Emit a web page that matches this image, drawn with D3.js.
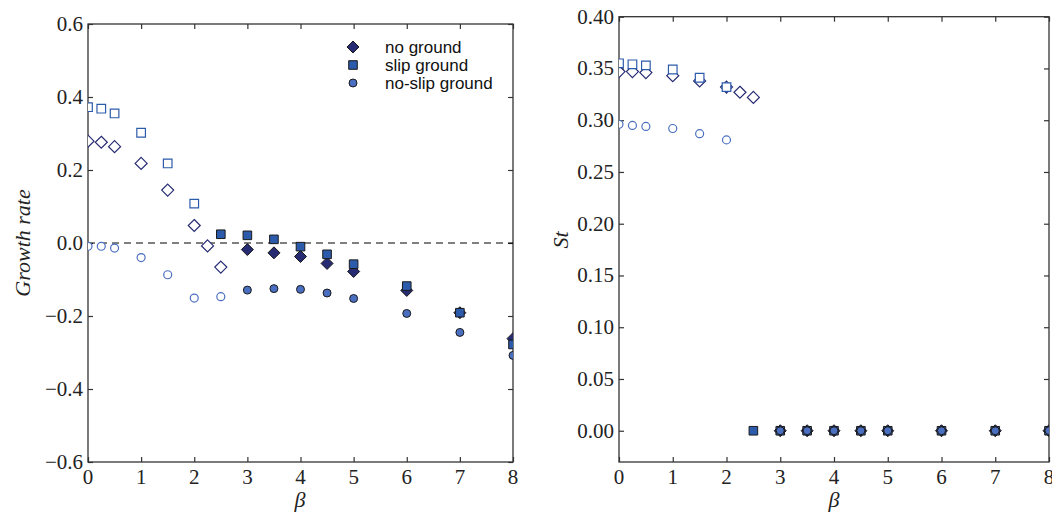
<!DOCTYPE html>
<html>
<head>
<meta charset="utf-8">
<script src="https://cdn.jsdelivr.net/npm/d3@7"></script>
<style>
  body { margin: 0; background: #fff; }
  svg { display: block; }
  .tick-label { font-family: "Liberation Serif", "DejaVu Serif", serif; font-size: 21px; fill: #222; }
  .axis-title { font-family: "Liberation Serif", "DejaVu Serif", serif; font-style: italic; fill: #222; }
  .legend-text { font-family: "Liberation Sans", Arial, sans-serif; font-size: 17px; fill: #111; }
</style>
</head>
<body>
<div id="chart"></div>
<script>
// beta values per series
const noGroundBeta = [0, 0.25, 0.5, 1, 1.5, 2, 2.25, 2.5, 3, 3.5, 4, 4.5, 5, 6, 7, 8];
const slipBeta     = [0, 0.25, 0.5, 1, 1.5, 2, 2.5, 3, 3.5, 4, 4.5, 5, 6, 7, 8];
const noSlipBeta   = [0, 0.25, 0.5, 1, 1.5, 2, 2.5, 3, 3.5, 4, 4.5, 5, 6, 7, 8];

// growth rate (left panel)
const noGroundGrowth = [0.279, 0.276, 0.264, 0.218, 0.145, 0.048, -0.008, -0.066, -0.018, -0.027, -0.037, -0.056, -0.078, -0.130, -0.191, -0.262];
const slipGrowth     = [0.372, 0.368, 0.355, 0.302, 0.218, 0.108, 0.024, 0.021, 0.010, -0.010, -0.031, -0.058, -0.118, -0.191, -0.278];
const noSlipGrowth   = [-0.009, -0.009, -0.014, -0.040, -0.087, -0.151, -0.147, -0.129, -0.125, -0.127, -0.137, -0.152, -0.193, -0.245, -0.308];

// Strouhal number (right panel); 0 = steady (filled marker)
const noGroundSt = [0.347, 0.347, 0.346, 0.343, 0.338, 0.332, 0.327, 0.322, 0, 0, 0, 0, 0, 0, 0, 0];
const slipSt     = [0.355, 0.354, 0.353, 0.349, 0.341, 0.332, 0, 0, 0, 0, 0, 0, 0, 0, 0];
const noSlipSt   = [0.296, 0.295, 0.294, 0.292, 0.287, 0.281, null, 0, 0, 0, 0, 0, 0, 0, 0];

const xTicks = [0, 1, 2, 3, 4, 5, 6, 7, 8];
const growthTicks = [-0.6, -0.4, -0.2, 0.0, 0.2, 0.4, 0.6];
const stTicks = [0, 0.05, 0.10, 0.15, 0.20, 0.25, 0.30, 0.35, 0.40];

const series = [
  { name: "no ground", shape: "diamond", color: "#262b72", beta: noGroundBeta, growth: noGroundGrowth, st: noGroundSt },
  { name: "slip ground", shape: "square", color: "#2d5bab", beta: slipBeta, growth: slipGrowth, st: slipSt },
  { name: "no-slip ground", shape: "circle", color: "#4b6fc0", beta: noSlipBeta, growth: noSlipGrowth, st: noSlipSt }
];

const W = 1052, H = 514;
const svg = d3.select("#chart").append("svg").attr("width", W).attr("height", H);

function markerPath(shape) {
  if (shape === "diamond") return "M0,-6L6,0L0,6L-6,0Z";
  if (shape === "square") return "M-4.3,-4.3H4.3V4.3H-4.3Z";
  return d3.symbol(d3.symbolCircle, 50)();
}

function panel(opts) {
  const { left, right, top, bottom, yDomain, yTicks, yFmt, id } = opts;
  const x = d3.scaleLinear().domain([0, 8]).range([left, right]);
  const y = d3.scaleLinear().domain(yDomain).range([bottom, top]);
  const g = svg.append("g");

  svg.append("clipPath").attr("id", id)
    .append("rect").attr("x", left).attr("y", top)
    .attr("width", right - left).attr("height", bottom - top);

  // inward ticks on all four sides, via d3 axes
  const tl = 5;
  g.append("g").attr("transform", `translate(0,${bottom})`)
    .call(d3.axisTop(x).tickValues(xTicks).tickSize(tl).tickFormat(""));
  g.append("g").attr("transform", `translate(0,${top})`)
    .call(d3.axisBottom(x).tickValues(xTicks).tickSize(tl).tickFormat(""));
  g.append("g").attr("transform", `translate(${left},0)`)
    .call(d3.axisRight(y).tickValues(yTicks).tickSize(tl).tickFormat(""));
  g.append("g").attr("transform", `translate(${right},0)`)
    .call(d3.axisLeft(y).tickValues(yTicks).tickSize(tl).tickFormat(""));
  g.selectAll(".domain").remove();
  g.selectAll(".tick line").attr("stroke", "#333").attr("stroke-width", 1.2);

  // tick labels
  g.selectAll(".xl").data(xTicks).join("text")
    .attr("class", "tick-label").attr("text-anchor", "middle")
    .attr("x", d => x(d)).attr("y", bottom + 22).text(d => d);
  g.selectAll(".yl").data(yTicks).join("text")
    .attr("class", "tick-label").attr("text-anchor", "end")
    .attr("x", left - 5).attr("y", d => y(d) + 7).text(yFmt);

  // frame
  g.append("rect").attr("x", left).attr("y", top)
    .attr("width", right - left).attr("height", bottom - top)
    .attr("fill", "none").attr("stroke", "#333").attr("stroke-width", 1.3);

  return { x, y, g, clip: `url(#${id})` };
}

// ---- left panel: growth rate
const L = panel({ left: 88, right: 513, top: 24, bottom: 462, yDomain: [-0.6, 0.6],
  yTicks: growthTicks, yFmt: d => (d < 0 ? "\u2212" : "") + Math.abs(d).toFixed(1), id: "clipL" });

L.g.append("line").attr("x1", L.x(0)).attr("x2", L.x(8))
  .attr("y1", L.y(0)).attr("y2", L.y(0))
  .attr("stroke", "#000").attr("stroke-width", 1).attr("stroke-dasharray", "7,5");

// ---- right panel: St
const R = panel({ left: 619, right: 1049, top: 16.7, bottom: 462, yDomain: [-0.0302, 0.40],
  yTicks: stTicks, yFmt: d => d.toFixed(2), id: "clipR" });

function drawPoints(P, key) {
  const layer = P.g.append("g").attr("clip-path", P.clip);
  series.forEach(s => {
    const pts = s.beta.map((b, i) => ({ b, v: s[key][i], filled: s.st[i] === 0 }))
      .filter(p => p.v !== null);
    layer.selectAll(null).data(pts).join("path")
      .attr("d", markerPath(s.shape))
      .attr("transform", p => `translate(${P.x(p.b)},${P.y(p.v)})`)
      .attr("fill", p => p.filled ? s.color : "#fff")
      .attr("stroke", p => p.filled ? "#1a1a1a" : s.color)
      .attr("stroke-width", p => p.filled ? 1 : 1.2);
  });
}
drawPoints(L, "growth");
drawPoints(R, "st");

// axis titles
svg.append("text").attr("class", "axis-title").attr("font-size", 22)
  .attr("transform", "translate(30,243) rotate(-90)").attr("text-anchor", "middle")
  .text("Growth rate");
svg.append("text").attr("class", "axis-title").attr("font-size", 22)
  .attr("transform", "translate(568,240) rotate(-90)").attr("text-anchor", "middle")
  .text("St");
svg.append("text").attr("class", "axis-title").attr("font-size", 22)
  .attr("x", 300).attr("y", 507).attr("text-anchor", "middle").text("β");
svg.append("text").attr("class", "axis-title").attr("font-size", 22)
  .attr("x", 834).attr("y", 507).attr("text-anchor", "middle").text("β");

// legend
const leg = svg.append("g");
series.forEach((s, i) => {
  const cy = 47 + i * 18;
  leg.append("path").attr("d", markerPath(s.shape))
    .attr("transform", `translate(353,${cy})`)
    .attr("fill", s.color).attr("stroke", "#1a1a1a").attr("stroke-width", 1);
  leg.append("text").attr("class", "legend-text")
    .attr("x", 385).attr("y", cy + 6).text(s.name);
});
</script>
</body>
</html>
